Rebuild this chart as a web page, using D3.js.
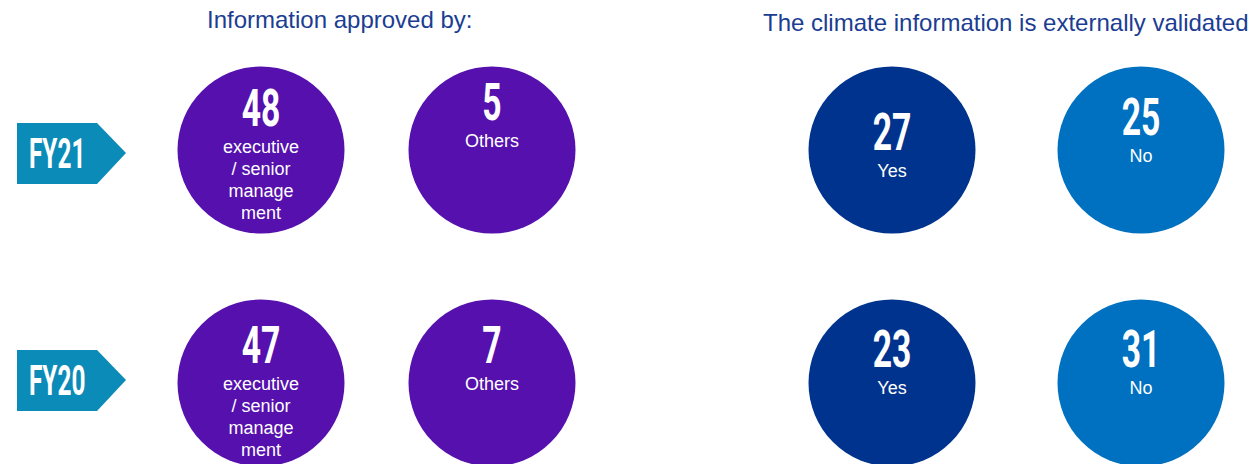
<!DOCTYPE html>
<html>
<head>
<meta charset="utf-8">
<script src="https://cdn.jsdelivr.net/npm/d3@7"></script>
<style>
  body { margin: 0; background: #fff; }
  svg { display: block; }
</style>
</head>
<body>
<div id="chart"></div>
<script>
// Chart size
const width = 1250;
const height = 464;

// Data
const years = ["FY21", "FY20"];
const approvedExec = [48, 47];
const approvedOther = [5, 7];
const validatedYes = [27, 23];
const validatedNo = [25, 31];

const groups = ["exec", "other", "yes", "no"];
const groupLabels = {
  exec: ["executive", "/ senior", "manage", "ment"],
  other: ["Others"],
  yes: ["Yes"],
  no: ["No"]
};
const groupValues = { exec: approvedExec, other: approvedOther, yes: validatedYes, no: validatedNo };
const groupColors = { exec: "#5510ae", other: "#5510ae", yes: "#00338d", no: "#0070c0" };

// number baseline offset from circle centre, per year (the slide was not consistent)
const numberShift = {
  exec: [-24, -20],
  other: [-30, -20],
  yes: [0, -16],
  no: [-15, -16]
};
// small vertical nudge of the year arrows
const arrowShift = [3, -3];

// Scales
const xScale = d3.scaleOrdinal().domain(groups).range([261, 492, 892, 1141]);
const yScale = d3.scalePoint().domain(years).range([150, 383]);
const radius = 83.5;

const svg = d3.select("#chart")
  .append("svg")
  .attr("width", width)
  .attr("height", height);

// Titles
svg.append("text")
  .attr("x", 207)
  .attr("y", 28)
  .attr("font-family", "Liberation Sans, Arial, sans-serif")
  .attr("font-size", 24)
  .attr("fill", "#1b3d92")
  .text("Information approved by:");

svg.append("text")
  .attr("x", 763)
  .attr("y", 31)
  .attr("font-family", "Liberation Sans, Arial, sans-serif")
  .attr("font-size", 24)
  .attr("fill", "#1b3d92")
  .text("The climate information is externally validated");

// Year arrows
const arrow = svg.selectAll(".year")
  .data(years)
  .enter()
  .append("g")
  .attr("class", "year")
  .attr("transform", (d, i) => `translate(17, ${yScale(d) + arrowShift[i]})`);

arrow.append("path")
  .attr("d", "M0,-30 L80,-30 L109,0 L80,31 L0,31 Z")
  .attr("fill", "#0a8bb8");

arrow.append("text")
  .attr("transform", "translate(12, 15) scale(0.58, 1)")
  .attr("font-family", "Roboto, sans-serif")
  .attr("font-weight", 700)
  .attr("font-size", 42)
  .attr("fill", "#fff")
  .text(d => d);

// Circles
const cells = [];
years.forEach((yr, i) => {
  groups.forEach(g => {
    cells.push({ year: yr, i: i, group: g, value: groupValues[g][i] });
  });
});

const cell = svg.selectAll(".cell")
  .data(cells)
  .enter()
  .append("g")
  .attr("class", "cell")
  .attr("transform", d => `translate(${xScale(d.group)}, ${yScale(d.year)})`);

cell.append("circle")
  .attr("r", radius)
  .attr("fill", d => groupColors[d.group]);

cell.append("text")
  .attr("transform", d => `translate(0, ${numberShift[d.group][d.i]}) scale(0.66, 1)`)
  .attr("text-anchor", "middle")
  .attr("font-family", "Roboto, sans-serif")
  .attr("font-weight", 700)
  .attr("font-size", 51)
  .attr("fill", "#fff")
  .text(d => d.value);

cell.each(function (d) {
  const g = d3.select(this);
  const y0 = numberShift[d.group][d.i] + 27;
  g.selectAll(".lbl")
    .data(groupLabels[d.group])
    .enter()
    .append("text")
    .attr("class", "lbl")
    .attr("x", 0)
    .attr("y", (t, k) => y0 + k * 22)
    .attr("text-anchor", "middle")
    .attr("font-family", "Liberation Sans, Arial, sans-serif")
    .attr("font-size", 18)
    .attr("fill", "#fff")
    .text(t => t);
});
</script>
</body>
</html>
